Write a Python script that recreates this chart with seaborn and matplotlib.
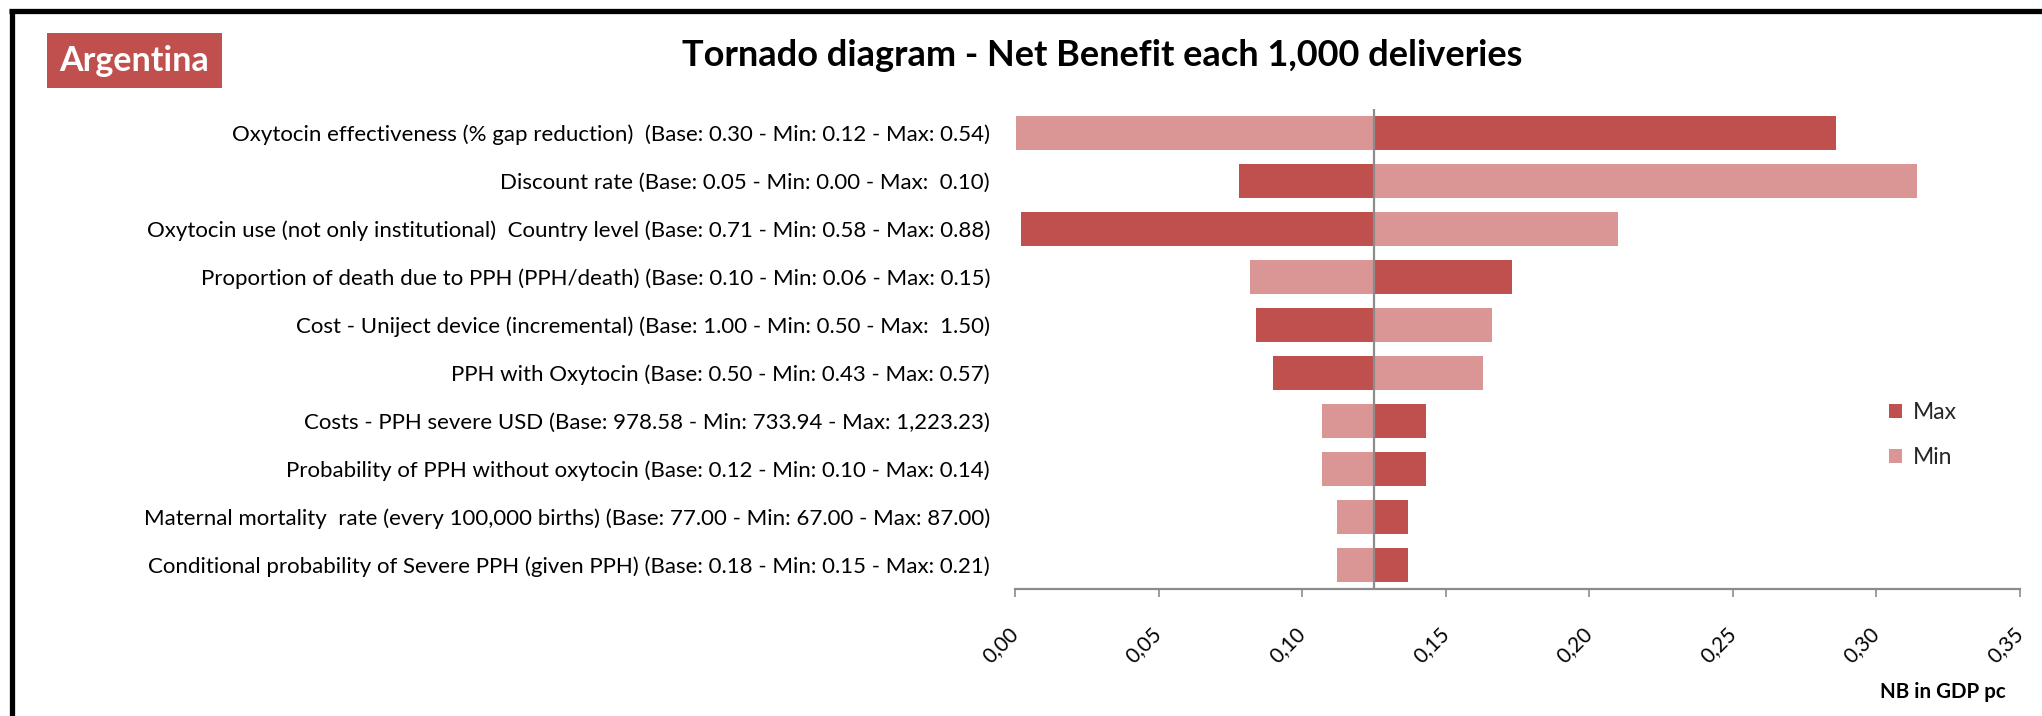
import numpy as np
import pandas as pd
import matplotlib
matplotlib.use("Agg")
import matplotlib.pyplot as plt
from matplotlib.lines import Line2D
from matplotlib.patches import Rectangle
from matplotlib.ticker import FixedLocator, FuncFormatter
import seaborn as sns

# ---- data -------------------------------------------------------------
parameters = [
    "Oxytocin effectiveness (% gap reduction)  (Base: 0.30 - Min: 0.12 - Max: 0.54)",
    "Discount rate (Base: 0.05 - Min: 0.00 - Max:  0.10)",
    "Oxytocin use (not only institutional)  Country level (Base: 0.71 - Min: 0.58 - Max: 0.88)",
    "Proportion of death due to PPH (PPH/death) (Base: 0.10 - Min: 0.06 - Max: 0.15)",
    "Cost - Uniject device (incremental) (Base: 1.00 - Min: 0.50 - Max:  1.50)",
    "PPH with Oxytocin (Base: 0.50 - Min: 0.43 - Max: 0.57)",
    "Costs - PPH severe USD (Base: 978.58 - Min: 733.94 - Max: 1,223.23)",
    "Probability of PPH without oxytocin (Base: 0.12 - Min: 0.10 - Max: 0.14)",
    "Maternal mortality  rate (every 100,000 births) (Base: 77.00 - Min: 67.00 - Max: 87.00)",
    "Conditional probability of Severe PPH (given PPH) (Base: 0.18 - Min: 0.15 - Max: 0.21)",
]
base_nb = 0.125
nb_at_max = [0.286, 0.078, 0.002, 0.173, 0.084, 0.090, 0.143, 0.143, 0.137, 0.137]
nb_at_min = [0.0005, 0.314, 0.210, 0.082, 0.166, 0.163, 0.107, 0.107, 0.112, 0.112]
x_ticks = [0.00, 0.05, 0.10, 0.15, 0.20, 0.25, 0.30, 0.35]
scenarios = ["Max", "Min"]

country = "Argentina"
title = "Tornado diagram - Net Benefit each 1,000 deliveries"
x_title = "NB in GDP pc"

# bars start at the base value; widths are the change from base
df = pd.DataFrame({
    "parameter": parameters * 2,
    "scenario": [scenarios[0]] * len(parameters) + [scenarios[1]] * len(parameters),
    "nb": nb_at_max + nb_at_min,
})
df["delta"] = df["nb"] - base_nb

# ---- style ------------------------------------------------------------
sns.set_style("white")
plt.rcParams["font.family"] = ["Lato", "DejaVu Sans"]

W, H = 2042, 716
fig = plt.figure(figsize=(W / 100, H / 100), dpi=100)
ax = fig.add_axes([1015 / W, 1 - 589 / H, 1005 / W, 480 / H])

palette = {"Max": "#C0504D", "Min": "#D99694"}
sns.barplot(data=df, y="parameter", x="delta", hue="scenario",
            hue_order=scenarios, palette=palette, dodge=False,
            width=0.69, orient="h", linewidth=0, saturation=1,
            left=base_nb, legend=False, ax=ax)

ax.set_xlim(x_ticks[0], x_ticks[-1])
ax.xaxis.set_major_locator(FixedLocator(x_ticks))
ax.xaxis.set_major_formatter(FuncFormatter(lambda v, p: f"{v:.2f}".replace(".", ",")))
ax.set_ylim(len(parameters) - 0.5, -0.5)

ax.axvline(base_nb, color="#8C8C8C", lw=1.6, zorder=3)

for s in ("left", "top", "right"):
    ax.spines[s].set_visible(False)
ax.spines["bottom"].set_color("#8C8C8C")
ax.spines["bottom"].set_linewidth(1.6)

ax.tick_params(axis="x", which="major", bottom=True, direction="out", length=6,
               width=1.2, color="#8C8C8C", pad=24, labelsize=15, labelcolor="#000000")
ax.tick_params(axis="y", length=0, pad=18, labelsize=16, labelcolor="#000000")
plt.setp(ax.get_xticklabels(), rotation=45, ha="right", va="center",
         rotation_mode="anchor")
ax.set_xlabel("")
ax.set_ylabel("")

ax.legend(handles=list(ax.containers), labels=scenarios,
          loc="upper left", bbox_to_anchor=(1889 / W, 1 - 402 / H),
          bbox_transform=fig.transFigure, frameon=False, fontsize=16.5,
          handlelength=0.57, handleheight=0.57, handletextpad=0.45,
          labelspacing=1.04, borderpad=0, borderaxespad=0)

# ---- titles and frame -------------------------------------------------
fig.text(1102 / W, 1 - 56 / H, title, ha="center", va="center",
         fontsize=26, fontweight="bold", color="#000000")
fig.text(2006 / W, 1 - 692 / H, x_title, ha="right", va="center",
         fontsize=14.8, fontweight="bold", color="#000000")

fig.add_artist(Rectangle((47 / W, 1 - 88 / H), 175 / W, 55 / H,
                         transform=fig.transFigure, facecolor="#C0504D",
                         edgecolor="none"))
fig.text(134.5 / W, 1 - 61 / H, country, ha="center", va="center",
         fontsize=24.5, fontweight="bold", color="white")

fig.add_artist(Line2D([9 / W, 1], [1 - 10.5 / H, 1 - 10.5 / H],
                      transform=fig.transFigure, color="black", lw=3.8,
                      solid_capstyle="butt"))
fig.add_artist(Line2D([11.5 / W, 11.5 / W], [0, 1 - 8.5 / H],
                      transform=fig.transFigure, color="black", lw=3.8,
                      solid_capstyle="butt"))

fig.savefig("out.png", dpi=100)
